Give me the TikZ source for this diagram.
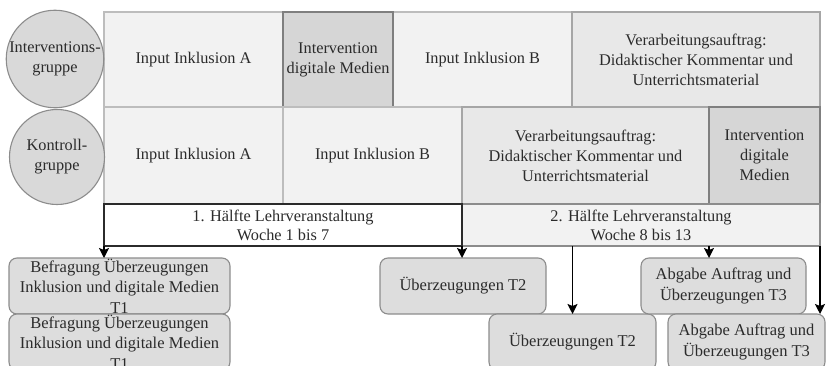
\documentclass[tikz,border=0pt]{standalone}
\usepackage{fontspec}
\setmainfont{Liberation Serif}
\usetikzlibrary{arrows.meta}
\definecolor{txt}{HTML}{2B2B2B}
\definecolor{cellfill}{HTML}{F2F2F2}
\definecolor{cellborder}{HTML}{BDBDBD}
\definecolor{intfill}{HTML}{D6D6D6}
\definecolor{intborder}{HTML}{7F7F7F}
\definecolor{verfill}{HTML}{E8E8E8}
\definecolor{verborder}{HTML}{A6A6A6}
\definecolor{botfill}{HTML}{DDDDDD}
\definecolor{botborder}{HTML}{8C8C8C}
\definecolor{circfill}{HTML}{D9D9D9}
\begin{document}
\begin{tikzpicture}[x=1pt,y=-1pt,
  base/.style={anchor=north west, inner sep=0pt, outer sep=0pt, align=center,
    text=txt, font=\fontsize{16.3}{20}\selectfont, line width=1.1pt},
  cell/.style={base, fill=cellfill, draw=cellborder},
  intcell/.style={base, fill=intfill, draw=intborder},
  vercell/.style={base, fill=verfill, draw=verborder},
  half/.style={base, font=\fontsize{16.3}{19}\selectfont},
  group/.style={circle, inner sep=0pt, outer sep=0pt, align=center, fill=circfill,
    draw=botborder, line width=1.1pt, text=txt, font=\fontsize{16.3}{20}\selectfont},
  result/.style={base, fill=botfill, draw=botborder, rounded corners=8pt,
    minimum height=56pt, font=\fontsize{16.5}{20.5}\selectfont},
  arr/.style={draw=black, line width=1.4pt, -{Stealth[length=10pt,width=10pt,inset=2pt]}}]
\useasboundingbox (0,0) rectangle (826,366);
\clip (0,0) rectangle (826,366);
% row 1
\node[cell, minimum width=179pt, minimum height=95pt] (r1a) at (104,12) {Input Inklusion A};
\node[cell, minimum width=179pt, minimum height=95pt] (r1c) at (393,12) {Input Inklusion B};
\node[vercell, minimum width=248pt, minimum height=95pt] (r1d) at (572,12) {Verarbeitungsauftrag:\\Didaktischer Kommentar und\\Unterrichtsmaterial};
\node[intcell, minimum width=110pt, minimum height=95pt] (r1b) at (283,12) {Intervention\\digitale Medien};
% row 2
\node[cell, minimum width=179pt, minimum height=97pt] (r2a) at (104,107) {Input Inklusion A};
\node[cell, minimum width=179pt, minimum height=97pt] (r2b) at (283,107) {Input Inklusion B};
\node[vercell, minimum width=247pt, minimum height=97pt] (r2c) at (462,107) {Verarbeitungsauftrag:\\Didaktischer Kommentar und\\Unterrichtsmaterial};
\node[intcell, minimum width=111pt, minimum height=97pt] (r2d) at (709,107) {Intervention\\digitale\\Medien};
% row 3
\node[half, fill=cellfill, draw=botborder, minimum width=358pt, minimum height=42pt] (h2) at (462,204) {2. Hälfte Lehrveranstaltung\\Woche 8 bis 13};
\node[half, fill=white, draw=txt, minimum width=358pt, minimum height=42pt] (h1) at (104,204) {1. Hälfte Lehrveranstaltung\\Woche 1 bis 7};
% groups
\node[group, minimum size=96pt] (ig) at (55,59) {Interventions-\\gruppe};
\node[group, minimum size=95pt] (kg) at (57,157) {Kontroll-\\gruppe};
% results
\node[result, minimum width=221pt] (t1a) at (9,258) {Befragung Überzeugungen\\Inklusion und digitale Medien\\T1};
\node[result, minimum width=221pt] (t1b) at (9,314) {Befragung Überzeugungen\\Inklusion und digitale Medien\\T1};
\node[result, minimum width=166pt] (t2a) at (380,258) {Überzeugungen T2};
\node[result, minimum width=167pt] (t2b) at (489,314) {Überzeugungen T2};
\node[result, minimum width=165pt] (t3a) at (641,258) {Abgabe Auftrag und\\Überzeugungen T3};
\node[result, minimum width=157pt] (t3b) at (668,314) {Abgabe Auftrag und\\Überzeugungen T3};
% arrows
\draw[arr] (h1.south west) -- (h1.south west |- t1a.north);
\draw[arr] (h2.south west) -- (h2.south west |- t2a.north);
\draw[arr] (t2b.north |- h2.south) -- (t2b.north);
\draw[arr] (r2d.west |- h2.south) -- (r2d.west |- t3a.north);
\draw[arr] (h2.south east) -- (h2.south east |- t3b.north);
\end{tikzpicture}
\end{document}
